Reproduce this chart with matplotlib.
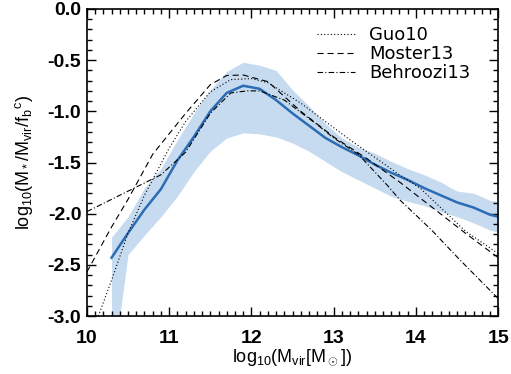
import matplotlib
matplotlib.use('Agg')
import matplotlib.pyplot as plt
from matplotlib.ticker import MultipleLocator, FormatStrFormatter

plt.rcParams.update({'font.family': 'Liberation Sans',
                     'mathtext.fontset': 'custom',
                     'mathtext.rm': 'Liberation Sans',
                     'mathtext.it': 'Liberation Sans',
                     'mathtext.bf': 'Liberation Sans:bold'})

# median relation with scatter band
mvir = [10.3, 10.5, 10.7, 10.9, 11.1, 11.3, 11.5, 11.7, 11.9, 12.1, 12.3, 12.5,
        12.7, 12.9, 13.1, 13.3, 13.5, 13.7, 13.9, 14.1, 14.3, 14.5, 14.7, 14.9, 15.0]
median = [-2.43, -2.19, -1.96, -1.76, -1.48, -1.25, -1.00, -0.82, -0.75, -0.78, -0.89, -1.02,
          -1.14, -1.26, -1.35, -1.43, -1.52, -1.60, -1.67, -1.75, -1.82, -1.89, -1.94, -2.01, -2.03]
upper = [-2.23, -2.03, -1.75, -1.56, -1.28, -1.02, -0.79, -0.61, -0.52, -0.55, -0.60, -0.79,
         -0.95, -1.12, -1.26, -1.35, -1.41, -1.49, -1.56, -1.62, -1.69, -1.78, -1.80, -1.87, -1.88]
lower = [-3.60, -2.40, -2.21, -2.03, -1.83, -1.59, -1.39, -1.26, -1.21, -1.22, -1.25, -1.31,
         -1.39, -1.49, -1.59, -1.67, -1.75, -1.83, -1.88, -1.92, -1.98, -2.03, -2.09, -2.16, -2.18]

# abundance matching models
guo_x = [10.14, 10.3, 10.5, 10.7, 10.85, 11.0, 11.2, 11.5, 11.75, 12.0, 12.2, 12.6,
         13.2, 13.8, 14.05, 14.6, 15.0]
guo_y = [-3.0, -2.65, -2.19, -1.82, -1.59, -1.36, -1.10, -0.81, -0.69, -0.68, -0.72, -0.92,
         -1.28, -1.62, -1.75, -2.17, -2.39]
moster_x = [10.0, 10.3, 10.5, 10.8, 11.2, 11.5, 11.7, 11.9, 12.2, 12.6, 13.0, 13.4,
            13.8, 14.2, 14.6, 15.0]
moster_y = [-2.57, -2.13, -1.86, -1.42, -1.02, -0.74, -0.65, -0.645, -0.71, -1.00, -1.25, -1.46,
            -1.69, -1.94, -2.19, -2.43]
behroozi_x = [10.0, 10.5, 10.9, 11.2, 11.5, 11.75, 11.95, 12.1, 12.4, 12.8, 13.0, 13.3,
              13.66, 13.81, 14.19, 14.52, 15.0]
behroozi_y = [-1.98, -1.78, -1.62, -1.40, -1.02, -0.82, -0.80, -0.80, -0.89, -1.13, -1.26, -1.42,
              -1.73, -1.87, -2.16, -2.44, -2.83]

fig, ax = plt.subplots(figsize=(5.11, 3.74), dpi=100)
fig.subplots_adjust(left=0.170, right=0.975, top=0.976, bottom=0.155)

ax.fill_between(mvir, lower, upper, color='#c6dbef', lw=0)
ax.plot(mvir, median, color='#2b6cb4', lw=1.8)
ax.plot(guo_x, guo_y, color='k', ls=(0, (1, 2)), lw=0.8, label='Guo10')
ax.plot(moster_x, moster_y, color='k', ls=(0, (5.5, 3.5)), lw=0.8, label='Moster13')
ax.plot(behroozi_x, behroozi_y, color='k', ls=(0, (5, 2, 1, 2)), lw=0.8, label='Behroozi13')

ax.set_xlim(10, 15)
ax.set_ylim(-3.0, 0.0)
ax.xaxis.set_major_locator(MultipleLocator(1))
ax.xaxis.set_minor_locator(MultipleLocator(0.1))
ax.yaxis.set_major_locator(MultipleLocator(0.5))
ax.yaxis.set_minor_locator(MultipleLocator(0.1))
ax.yaxis.set_major_formatter(FormatStrFormatter('%.1f'))
ax.tick_params(which='both', direction='in', top=True, right=True, width=1)
ax.tick_params(which='major', length=6.5, labelsize=14)
ax.tick_params(which='minor', length=3.3)
ax.tick_params(axis='x', which='major', pad=10)
ax.tick_params(axis='y', which='major', pad=4)
for lab in ax.get_xticklabels() + ax.get_yticklabels():
    lab.set_fontweight('bold')
for sp in ax.spines.values():
    sp.set_linewidth(1.2)

ax.set_xlabel(r'log$_{10}$(M$_{\rm vir}$[M$_\odot$])', fontsize=13, labelpad=0)
ax.set_ylabel(r'log$_{10}$(M$_*$/M$_{\rm vir}$/f$_{\rm b}$$^{\rm c}$)', fontsize=13)
ax.yaxis.set_label_coords(-0.1265, 0.5)

ax.legend(loc='upper left', frameon=False, prop={'family': 'DejaVu Sans', 'size': 13},
          handlelength=2.1, labelspacing=0.05, handletextpad=0.8, borderpad=0,
          borderaxespad=0, bbox_to_anchor=((317 - 87) / 411, 0.943))

fig.savefig('out.png', dpi=100)
